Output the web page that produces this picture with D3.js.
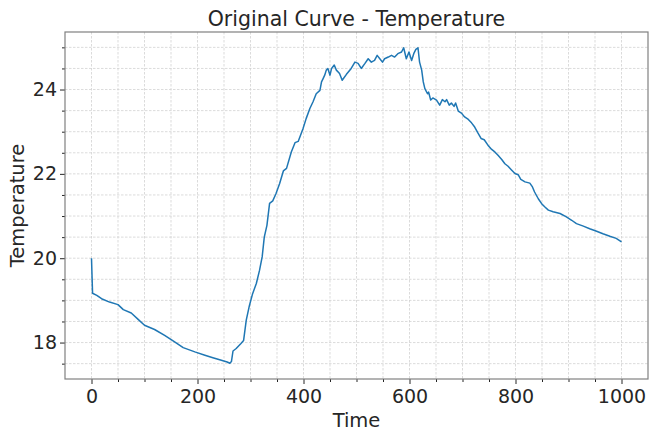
<!DOCTYPE html>
<html>
<head>
<meta charset="utf-8">
<script src="https://cdn.jsdelivr.net/npm/d3@7"></script>
<style>
  html, body { margin: 0; padding: 0; background: #ffffff; }
  svg { display: block; font-family: "DejaVu Sans", sans-serif; }
</style>
</head>
<body>
<svg id="chart" width="649" height="431"></svg>
<script>
// Sampled temperature readings over time
const time = [0, 2, 10, 19, 34, 50, 60, 75, 88, 100, 119, 138, 154, 173, 195, 214, 229, 245, 256, 261,
  264, 267, 273, 282, 287, 292, 298, 304, 311, 317, 322, 326, 331, 336, 342, 348, 355, 362, 368, 377,
  384, 390, 399, 405, 412, 418, 424, 431, 434, 437, 440, 443, 446, 450, 453, 458, 462, 468, 473, 481,
  490, 497, 503, 509, 516, 522, 528, 534, 539, 544, 549, 553, 560, 566, 572, 578, 585, 589, 594, 599,
  604, 608, 612, 616, 619, 623, 626, 629, 634, 636, 640, 644, 651, 657, 662, 667, 670, 675, 679, 684,
  687, 692, 698, 704, 711, 717, 723, 729, 735, 741, 748, 755, 761, 767, 774, 780, 786, 792, 799, 805,
  810, 818, 827, 832, 836, 843, 849, 855, 862, 871, 884, 896, 906, 915, 928, 940, 953, 965, 978, 990, 1000];
const temperature = [20.00, 19.17, 19.12, 19.04, 18.96, 18.90, 18.78, 18.70, 18.55, 18.41, 18.31, 18.17, 18.04, 17.88, 17.78, 17.70, 17.64, 17.58, 17.54, 17.51,
  17.55, 17.80, 17.86, 17.98, 18.05, 18.53, 18.88, 19.16, 19.40, 19.71, 20.03, 20.50, 20.78, 21.30, 21.36, 21.53, 21.77, 22.07, 22.13, 22.52,
  22.74, 22.77, 23.07, 23.31, 23.55, 23.71, 23.90, 23.98, 24.18, 24.26, 24.34, 24.46, 24.50, 24.34, 24.50, 24.58, 24.46, 24.38, 24.22, 24.36,
  24.50, 24.65, 24.62, 24.50, 24.62, 24.73, 24.65, 24.69, 24.81, 24.73, 24.65, 24.73, 24.77, 24.81, 24.77, 24.85, 24.89, 24.99, 24.73, 24.89,
  24.69, 24.85, 24.95, 24.99, 24.65, 24.46, 24.18, 24.02, 23.90, 23.94, 23.75, 23.80, 23.75, 23.63, 23.76, 23.71, 23.76, 23.63, 23.68, 23.60,
  23.68, 23.49, 23.44, 23.35, 23.29, 23.21, 23.11, 22.97, 22.84, 22.81, 22.68, 22.58, 22.52, 22.44, 22.34, 22.24, 22.18, 22.10, 22.01, 21.98,
  21.87, 21.81, 21.78, 21.69, 21.57, 21.41, 21.30, 21.22, 21.14, 21.10, 21.06, 20.98, 20.90, 20.82, 20.76, 20.70, 20.64, 20.58, 20.52, 20.47, 20.39];

const xTicks = [0, 200, 400, 600, 800, 1000];
const yTicks = [18, 20, 22, 24];
const xMinorTicks = d3.range(-50, 1051, 50);
const yMinorTicks = d3.range(17.5, 25.01, 0.5);

const titleText = "Original Curve - Temperature";
const xLabelText = "Time";
const yLabelText = "Temperature";

const svg = d3.select("#chart");
const plot = { left: 65, right: 648, top: 32, bottom: 379 };

// 5% padding around the data extent on both axes
const xExt = d3.extent(time);
const yExt = d3.extent(temperature);
const xPad = (xExt[1] - xExt[0]) * 0.05;
const yPad = (yExt[1] - yExt[0]) * 0.05;

const x = d3.scaleLinear().domain([xExt[0] - xPad, xExt[1] + xPad]).range([plot.left, plot.right]);
const y = d3.scaleLinear().domain([yExt[0] - yPad, yExt[1] + yPad]).range([plot.bottom, plot.top]);

const textColor = "#262626";
const gridColor = "#d2d2d2";

// Grid lines (major and minor, dashed)
const grid = svg.append("g");
grid.selectAll("line.vx").data(xMinorTicks.filter(t => x(t) > plot.left + 0.5 && x(t) < plot.right - 0.5))
  .join("line")
  .attr("x1", d => x(d)).attr("x2", d => x(d))
  .attr("y1", plot.top).attr("y2", plot.bottom)
  .attr("stroke", gridColor).attr("stroke-width", 0.8).attr("stroke-dasharray", "2.5,1.5");
grid.selectAll("line.hy").data(yMinorTicks.filter(t => y(t) > plot.top + 0.5 && y(t) < plot.bottom - 0.5))
  .join("line")
  .attr("y1", d => y(d)).attr("y2", d => y(d))
  .attr("x1", plot.left).attr("x2", plot.right)
  .attr("stroke", gridColor).attr("stroke-width", 0.8).attr("stroke-dasharray", "2.5,1.5");

// Axes with major and minor ticks
const xAxis = svg.append("g").attr("transform", `translate(0,${plot.bottom})`)
  .call(d3.axisBottom(x).tickValues(xTicks).tickSize(5).tickPadding(6).tickFormat(d3.format("d")));
const xMinor = svg.append("g").attr("transform", `translate(0,${plot.bottom})`)
  .call(d3.axisBottom(x).tickValues(xMinorTicks.filter(t => !xTicks.includes(t) && t > -50 && t < 1050)).tickSize(3).tickFormat(""));
const yAxis = svg.append("g").attr("transform", `translate(${plot.left},0)`)
  .call(d3.axisLeft(y).tickValues(yTicks).tickSize(5).tickPadding(3).tickFormat(d3.format("d")));
const yMinor = svg.append("g").attr("transform", `translate(${plot.left},0)`)
  .call(d3.axisLeft(y).tickValues(yMinorTicks.filter(t => !yTicks.includes(t))).tickSize(3).tickFormat(""));

[xAxis, xMinor, yAxis, yMinor].forEach(g => {
  g.select(".domain").remove();
  g.selectAll(".tick line").attr("stroke", textColor).attr("stroke-width", 1);
  g.selectAll(".tick text").attr("fill", textColor).attr("font-size", 19)
    .attr("font-family", "DejaVu Sans, sans-serif");
});

// Frame around the plotting area
svg.append("rect")
  .attr("x", plot.left).attr("y", plot.top)
  .attr("width", plot.right - plot.left).attr("height", plot.bottom - plot.top)
  .attr("fill", "none").attr("stroke", "#808080").attr("stroke-width", 1.2);

// Temperature curve
const line = d3.line().x((d, i) => x(time[i])).y(d => y(d));
svg.append("path")
  .datum(temperature)
  .attr("d", line)
  .attr("fill", "none")
  .attr("stroke", "#1f77b4")
  .attr("stroke-width", 1.5)
  .attr("stroke-linejoin", "round");

// Titles
svg.append("text").attr("x", (plot.left + plot.right) / 2).attr("y", 26)
  .attr("text-anchor", "middle").attr("font-size", 20.5).attr("fill", textColor).text(titleText);
svg.append("text").attr("x", (plot.left + plot.right) / 2).attr("y", 426.5)
  .attr("text-anchor", "middle").attr("font-size", 19.5).attr("fill", textColor).text(xLabelText);
svg.append("text")
  .attr("transform", `translate(23.5,${(plot.top + plot.bottom) / 2}) rotate(-90)`)
  .attr("text-anchor", "middle").attr("font-size", 19.5).attr("fill", textColor).text(yLabelText);
</script>
</body>
</html>
